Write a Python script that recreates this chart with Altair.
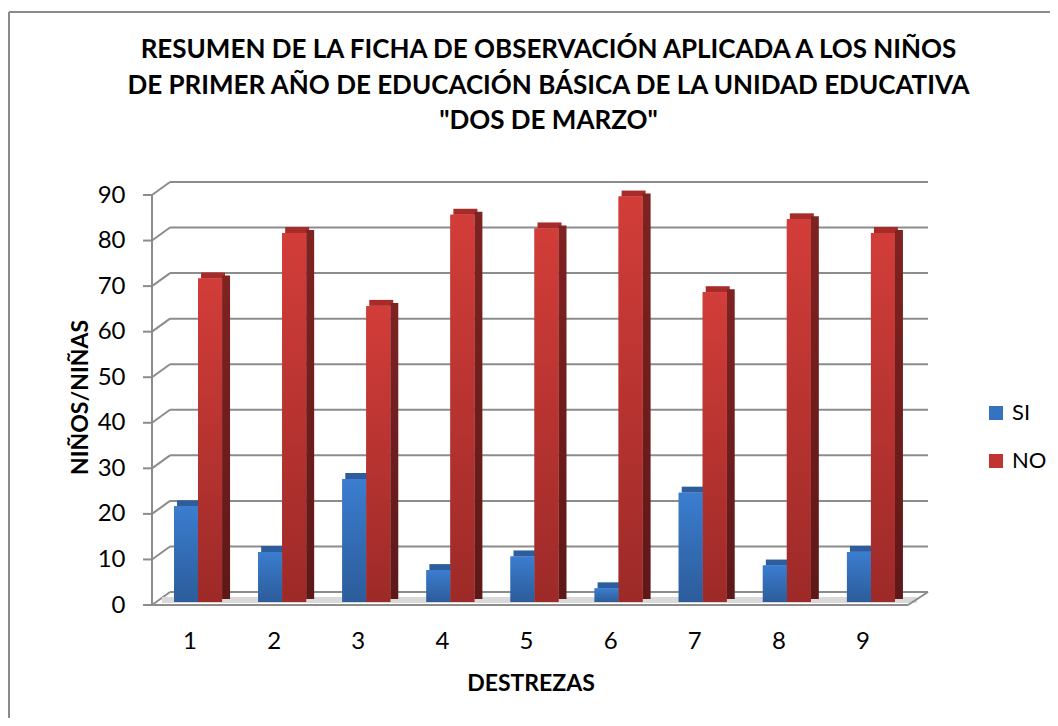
import altair as alt
import pandas as pd

categories = ["1", "2", "3", "4", "5", "6", "7", "8", "9"]
si_values = [21, 11, 27, 7, 10, 3, 24, 8, 11]
no_values = [71, 81, 65, 85, 82, 89, 68, 84, 81]
series = ["SI", "NO"]
tick_values = [0, 10, 20, 30, 40, 50, 60, 70, 80, 90]
title_lines = [
    "RESUMEN DE LA FICHA DE OBSERVACIÓN APLICADA  A LOS NIÑOS",
    "DE PRIMER AÑO DE EDUCACIÓN BÁSICA DE LA UNIDAD EDUCATIVA",
    "\"DOS DE MARZO\"",
]

rows = []
for c, s, n in zip(categories, si_values, no_values):
    rows.append({"cat": c, "serie": "SI", "valor": s})
    rows.append({"cat": c, "serie": "NO", "valor": n})
df = pd.DataFrame(rows)
ticks_df = pd.DataFrame({"v": tick_values})

W, H = 757, 410
FONT = "Lato"
GRID = "#8c8c8c"
BAR_W = 24
SHIFT = 4
LBL = 24

x_enc = alt.X(
    "cat:N",
    sort=categories,
    scale=alt.Scale(paddingInner=0.4, paddingOuter=0.2),
    axis=alt.Axis(
        title="DESTREZAS", labelAngle=0, domain=False, ticks=False, grid=False,
        labelFont=FONT, labelFontSize=LBL, labelColor="black", labelBaseline="middle",
        labelPadding=39, labelOffset=-4,
        titleFont=FONT, titleFontSize=23, titleFontWeight="bold", titleColor="black",
        titleBaseline="middle", titleY=81,
    ),
)
y_axis = alt.Axis(
    title="NIÑOS/NIÑAS", values=tick_values, domain=False, ticks=False, grid=False,
    labelFont=FONT, labelFontSize=LBL, labelColor="black", labelPadding=27, labelOffset=3,
    titleFont=FONT, titleFontSize=23, titleFontWeight="bold", titleColor="black",
    titleX=-72, titleY=H / 2, titleBaseline="middle", titleAlign="center",
)
y_scale = alt.Scale(domain=[0, 90], nice=False, zero=True)
y_enc = alt.Y("valor:Q", scale=y_scale, axis=y_axis)
yv_enc = alt.Y("v:Q", scale=y_scale, axis=y_axis)

color_enc = alt.Color(
    "serie:N",
    scale=alt.Scale(domain=series, range=["#3572c0", "#c0352f"]),
    legend=alt.Legend(
        title=None, orient="none", legendX=833, legendY=210,
        symbolType="square", symbolSize=196, symbolStrokeWidth=0,
        labelFont=FONT, labelFontSize=22, labelColor="black", labelOffset=5,
        rowPadding=26, padding=0,
    ),
)


def grad(top, bottom):
    return alt.Gradient(
        gradient="linear",
        stops=[alt.GradientStop(color=top, offset=0), alt.GradientStop(color=bottom, offset=1)],
        x1=0, x2=0, y1=0, y2=1,
    )


one = pd.DataFrame({"a": [0]})
base_ticks = alt.Chart(ticks_df)

grid_back = base_ticks.mark_rule(color=GRID, strokeWidth=2, yOffset=-10).encode(
    x=alt.value(18), x2=alt.value(W + 19), y=yv_enc
)
grid_diag = base_ticks.mark_rule(color=GRID, strokeWidth=2, yOffset=3, y2Offset=-10).encode(
    x=alt.value(0), x2=alt.value(18), y=yv_enc, y2=alt.Y2("v:Q")
)
grid_tick = base_ticks.mark_rule(color=GRID, strokeWidth=2, yOffset=3).encode(
    x=alt.value(-9), x2=alt.value(0), y=yv_enc
)
front_axis = alt.Chart(pd.DataFrame({"a": [0], "b": [90]})).mark_rule(
    color=GRID, strokeWidth=2, yOffset=3, y2Offset=3
).encode(x=alt.value(0), y=alt.Y("a:Q", scale=y_scale, axis=y_axis), y2="b:Q")
floor_front = alt.Chart(one).mark_rule(color=GRID, strokeWidth=2, yOffset=3).encode(
    x=alt.value(0), x2=alt.value(W - 1), y=alt.Y("a:Q", scale=y_scale, axis=y_axis)
)
floor_right = alt.Chart(one).mark_rule(color=GRID, strokeWidth=2, yOffset=3, y2Offset=-10).encode(
    x=alt.value(W - 1), x2=alt.value(W + 19), y=alt.Y("a:Q", scale=y_scale, axis=y_axis), y2="a:Q"
)
floor_shadow = alt.Chart(one).mark_rule(color="#d9d9d9", strokeWidth=6, yOffset=-2).encode(
    x=alt.value(10), x2=alt.value(W + 8), y=alt.Y("a:Q", scale=y_scale, axis=y_axis)
)

border_top = alt.Chart(one).mark_rule(color="#8a8a8a", strokeWidth=2).encode(
    x=alt.value(-143), x2=alt.value(W + 141), y=alt.value(-180)
)
border_left = alt.Chart(one).mark_rule(color="#8a8a8a", strokeWidth=2).encode(
    x=alt.value(-143), y=alt.value(-180), y2=alt.value(H + 116)
)

title_text = alt.Chart(one).mark_text(
    text=title_lines, font=FONT, fontSize=26, fontWeight="bold", color="black",
    align="center", baseline="middle", lineHeight=35.5,
).encode(x=alt.value(W / 2 + 18), y=alt.value(-142))

bars = alt.Chart(df)
si = bars.transform_filter(alt.datum.serie == "SI")
no = bars.transform_filter(alt.datum.serie == "NO")

si_flat = si.mark_bar(width=BAR_W, xOffset=-BAR_W / 2 + SHIFT).encode(x=x_enc, y=y_enc, color=color_enc)
no_flat = no.mark_bar(width=BAR_W, xOffset=BAR_W / 2 + SHIFT).encode(x=x_enc, y=y_enc, color=color_enc)
si_face = si.mark_bar(width=BAR_W, xOffset=-BAR_W / 2 + SHIFT, color=grad("#3b7dcf", "#2c5c9a")).encode(
    x=x_enc, y=y_enc
)
si_top = si.mark_bar(width=BAR_W, xOffset=-BAR_W / 2 + SHIFT + 3, y2Offset=-6, color="#2d5d9c").encode(
    x=x_enc, y=y_enc, y2="valor:Q"
)
no_side = no.mark_bar(width=8, xOffset=BAR_W + 4 + SHIFT, yOffset=-3, color=grad("#7e2322", "#5e1818")).encode(
    x=x_enc, y=y_enc
)
no_face = no.mark_bar(width=BAR_W, xOffset=BAR_W / 2 + SHIFT, color=grad("#d23d39", "#9d2a28")).encode(
    x=x_enc, y=y_enc
)
no_top = no.mark_bar(width=BAR_W, xOffset=BAR_W / 2 + SHIFT + 3, y2Offset=-6, color="#a82b29").encode(
    x=x_enc, y=y_enc, y2="valor:Q"
)

chart = alt.layer(
    border_top, border_left, title_text,
    grid_back, grid_diag, grid_tick, front_axis, floor_shadow, floor_front, floor_right,
    si_flat, no_flat, si_top, si_face, no_top, no_side, no_face,
).properties(
    width=W,
    height=H,
    autosize=alt.AutoSizeParams(type="none"),
    padding={"left": 144, "top": 184, "right": 141, "bottom": 116},
    background="white",
).configure(view=alt.ViewConfig(strokeWidth=0, stroke="transparent"))

chart.save("out.html", embed_options={"renderer": "svg", "actions": False})
